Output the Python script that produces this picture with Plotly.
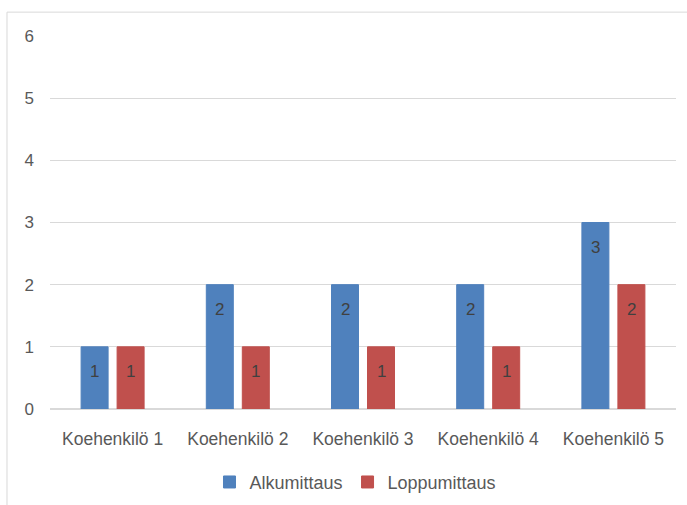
import plotly.graph_objects as go

categories = ["Koehenkilö 1", "Koehenkilö 2", "Koehenkilö 3", "Koehenkilö 4", "Koehenkilö 5"]
alku = [1, 2, 2, 2, 3]
loppu = [1, 1, 1, 1, 2]
series = [("Alkumittaus", alku, "#4F81BD", -18), ("Loppumittaus", loppu, "#C0504D", 18)]

FONT = "Liberation Sans"
TXT = "#595959"

fig = go.Figure()
for name, vals, col, _ in series:
    fig.add_trace(go.Bar(name=name, x=categories, y=vals, marker=dict(color=col, line=dict(color=col, width=1))))

annotations = []
for name, vals, col, dx in series:
    for c, v in zip(categories, vals):
        annotations.append(dict(x=c, y=v, xref="x", yref="y", text=str(v), showarrow=False,
                                xshift=dx, yshift=-25, font=dict(family=FONT, size=17, color="#404040")))

fig.update_layout(
    width=687, height=505,
    margin=dict(l=50, r=11, t=36, b=96),
    paper_bgcolor="white", plot_bgcolor="white",
    barmode="group", bargap=0.425, bargroupgap=0.25,
    font=dict(family=FONT, size=17, color=TXT),
    showlegend=True,
    legend=dict(orientation="h", x=0.488, xanchor="center", yref="container", y=0.045, yanchor="middle",
                font=dict(family=FONT, size=18, color=TXT), itemwidth=30, traceorder="normal"),
    annotations=annotations,
    shapes=[dict(type="rect", xref="paper", yref="paper", x0=-0.0687, x1=1.2, y0=-0.4, y1=1.064,
                 line=dict(color="#d9d9d9", width=1), layer="below")],
    yaxis=dict(range=[0, 6], dtick=1, showgrid=True, gridcolor="#d9d9d9", gridwidth=1,
               zeroline=True, zerolinecolor="#d9d9d9", showline=False, ticks="", automargin=False,
               ticklabelstandoff=15, tickfont=dict(family=FONT, size=17, color=TXT)),
    xaxis=dict(showline=False, ticks="", ticklabelstandoff=17, automargin=False,
               tickfont=dict(family=FONT, size=17.5, color=TXT)),
)

fig.write_html("out.html")
